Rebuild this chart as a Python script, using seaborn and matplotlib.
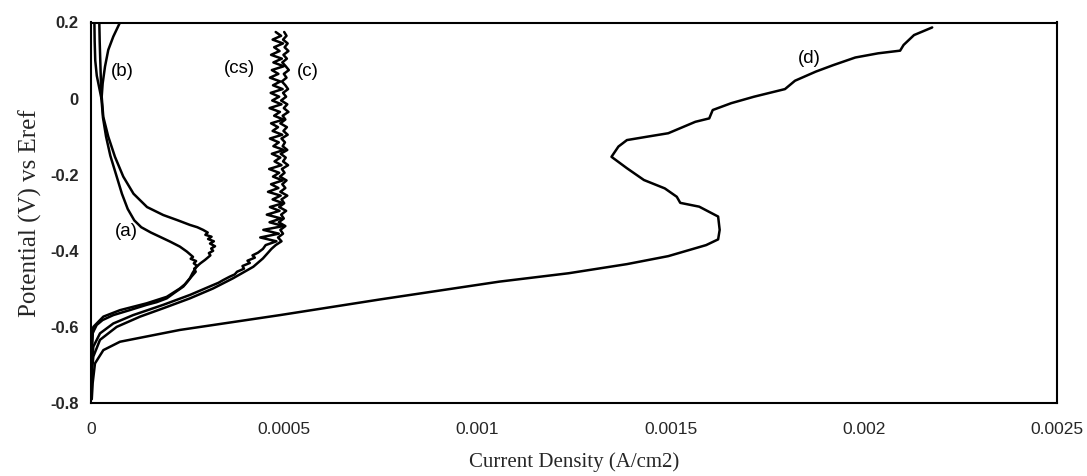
import matplotlib
matplotlib.use("Agg")
import matplotlib.pyplot as plt
import seaborn as sns
import pandas as pd

# Polarisation curves: current density (A/cm2) against potential (V vs Eref)

# (d)
d_current = [0.002177, 0.002130, 0.002103, 0.002094, 0.002037, 0.001978, 0.001921,
             0.001876, 0.001822, 0.001796, 0.001716, 0.001657, 0.001609, 0.001600,
             0.001564, 0.001494, 0.001440, 0.001387, 0.001365, 0.001347, 0.001387,
             0.001431, 0.001485, 0.001516, 0.001525, 0.001574, 0.001623, 0.001627,
             0.001623, 0.001592, 0.001494, 0.001387, 0.001236, 0.001057, 0.000747,
             0.000489, 0.000230, 0.000075, 0.000032, 0.0000103, 0.0000044, 0.000002]
d_potential = [0.187, 0.167, 0.141, 0.126, 0.119, 0.108, 0.088,
               0.071, 0.047, 0.025, 0.005, -0.012, -0.030, -0.052,
               -0.061, -0.091, -0.100, -0.109, -0.126, -0.153, -0.183,
               -0.214, -0.236, -0.258, -0.274, -0.284, -0.310, -0.345,
               -0.370, -0.385, -0.414, -0.435, -0.459, -0.481, -0.528,
               -0.569, -0.608, -0.639, -0.661, -0.696, -0.747, -0.790]

# (b)
b_current = [0.000075, 0.0000577, 0.0000447, 0.0000362, 0.0000302, 0.0000277, 0.0000318,
             0.0000447, 0.000062, 0.0000835, 0.000110, 0.000145, 0.000187, 0.000225,
             0.000256, 0.000275, 0.000290, 0.000302, 0.000296, 0.000312, 0.000303,
             0.000318, 0.000308, 0.000321, 0.000311, 0.000316, 0.000305, 0.000309,
             0.000295, 0.000283, 0.000273, 0.000263, 0.000256, 0.000243, 0.000230,
             0.000196, 0.000144, 0.000075, 0.000032, 0.000006, 0.000002, 0.000001]
b_potential = [0.200, 0.163, 0.128, 0.084, 0.040, 0.005, -0.048,
               -0.100, -0.153, -0.205, -0.250, -0.285, -0.306, -0.320,
               -0.332, -0.338, -0.345, -0.352, -0.358, -0.363, -0.369,
               -0.375, -0.381, -0.388, -0.394, -0.400, -0.406, -0.412,
               -0.424, -0.433, -0.442, -0.458, -0.472, -0.488, -0.499,
               -0.521, -0.538, -0.556, -0.573, -0.600, -0.650, -0.750]

# (a)
a_current = [0.0000215, 0.0000225, 0.000024, 0.0000255, 0.000027, 0.000031, 0.000039,
             0.000050, 0.000065, 0.000080, 0.000095, 0.000112, 0.000130, 0.000155,
             0.000178, 0.000205, 0.000230, 0.000248, 0.000264, 0.000258, 0.000272,
             0.000266, 0.000275, 0.000267, 0.000271, 0.000260, 0.000249, 0.000239,
             0.000215, 0.000196, 0.000170, 0.000144, 0.000100, 0.0000577, 0.000030,
             0.0000147, 0.000004, 0.000002, 0.000001]
a_potential = [0.200, 0.150, 0.100, 0.050, 0.000, -0.050, -0.100,
               -0.150, -0.200, -0.250, -0.290, -0.320, -0.338, -0.352,
               -0.363, -0.376, -0.389, -0.402, -0.416, -0.421, -0.427,
               -0.433, -0.440, -0.447, -0.455, -0.468, -0.482, -0.494,
               -0.511, -0.525, -0.535, -0.542, -0.556, -0.569, -0.582,
               -0.595, -0.617, -0.680, -0.760]

# (a) return sweep near the top
a_return_current = [0.0000088, 0.0000095, 0.000011, 0.000015, 0.000021, 0.000027]
a_return_potential = [0.200, 0.150, 0.100, 0.060, 0.030, 0.000]

# (cs)
cs_current = [0.000478, 0.000492, 0.000470, 0.000497, 0.000474, 0.000488, 0.000466,
              0.000494, 0.000472, 0.000499, 0.000468, 0.000485, 0.000463, 0.000490,
              0.000471, 0.000496, 0.000465, 0.000487, 0.000469, 0.000493, 0.000462,
              0.000489, 0.000474, 0.000498, 0.000466, 0.000484, 0.000470, 0.000495,
              0.000463, 0.000486, 0.000472, 0.000499, 0.000468, 0.000490, 0.000475,
              0.000493, 0.000461, 0.000487, 0.000471, 0.000496, 0.000466, 0.000485,
              0.000458, 0.000491, 0.000470, 0.000497, 0.000463, 0.000488, 0.000455,
              0.000492, 0.000462, 0.000498, 0.000446, 0.000486, 0.000438, 0.000480,
              0.000452, 0.000445, 0.000432, 0.000418, 0.000424, 0.000405, 0.000411,
              0.000392, 0.000396, 0.000378, 0.000372, 0.000359, 0.000342, 0.000330,
              0.000316, 0.000256, 0.000187, 0.000109, 0.0000577, 0.0000233, 0.000006,
              0.000002, 0.000001]
cs_potential = [0.175, 0.165, 0.155, 0.145, 0.135, 0.125, 0.115,
                0.105, 0.095, 0.085, 0.075, 0.065, 0.055, 0.045,
                0.035, 0.025, 0.015, 0.005, -0.005, -0.015, -0.025,
                -0.035, -0.045, -0.055, -0.065, -0.075, -0.085, -0.095,
                -0.105, -0.115, -0.125, -0.135, -0.145, -0.155, -0.165,
                -0.175, -0.185, -0.195, -0.205, -0.215, -0.225, -0.235,
                -0.245, -0.255, -0.265, -0.275, -0.285, -0.295, -0.305,
                -0.315, -0.325, -0.335, -0.345, -0.355, -0.365, -0.375,
                -0.385, -0.395, -0.405, -0.412, -0.418, -0.426, -0.432,
                -0.440, -0.447, -0.455, -0.462, -0.468, -0.477, -0.484,
                -0.490, -0.516, -0.542, -0.569, -0.591, -0.617, -0.652,
                -0.700, -0.770]

# (c)
c_current = [0.000500, 0.000506, 0.000497, 0.000509, 0.000501, 0.000511, 0.000498,
             0.000507, 0.000495, 0.000504, 0.000512, 0.000499, 0.000506, 0.000494,
             0.000503, 0.000510, 0.000497, 0.000505, 0.000492, 0.000508, 0.000499,
             0.000511, 0.000496, 0.000503, 0.000490, 0.000507, 0.000498, 0.000509,
             0.000493, 0.000502, 0.000496, 0.000508, 0.000491, 0.000504, 0.000497,
             0.000510, 0.000494, 0.000501, 0.000489, 0.000506, 0.000495, 0.000503,
             0.000490, 0.000508, 0.000493, 0.000500, 0.000487, 0.000505, 0.000492,
             0.000499, 0.000486, 0.000503, 0.000490, 0.000497, 0.000484, 0.000493,
             0.000478, 0.000467, 0.000445, 0.000420, 0.000368, 0.000316, 0.000256,
             0.000187, 0.000127, 0.0000664, 0.0000233, 0.000006, 0.000002, 0.0000005]
c_potential = [0.175, 0.165, 0.155, 0.145, 0.135, 0.125, 0.115,
               0.105, 0.095, 0.085, 0.075, 0.065, 0.055, 0.045,
               0.035, 0.025, 0.015, 0.005, -0.005, -0.015, -0.025,
               -0.035, -0.045, -0.055, -0.065, -0.075, -0.085, -0.095,
               -0.105, -0.115, -0.125, -0.135, -0.145, -0.155, -0.165,
               -0.175, -0.185, -0.195, -0.205, -0.215, -0.225, -0.235,
               -0.245, -0.255, -0.265, -0.275, -0.285, -0.295, -0.305,
               -0.315, -0.325, -0.335, -0.345, -0.355, -0.365, -0.375,
               -0.385, -0.395, -0.420, -0.442, -0.472, -0.499, -0.525,
               -0.551, -0.573, -0.600, -0.634, -0.678, -0.722, -0.790]

# Curve labels and where they sit (current, potential)
label_texts = ["(a)", "(b)", "(cs)", "(c)", "(d)"]
label_current = [0.0000923, 0.0000800, 0.000385, 0.000560, 0.001859]
label_potential = [-0.350, 0.071, 0.080, 0.071, 0.106]

x_ticks = [0, 0.0005, 0.001, 0.0015, 0.002, 0.0025]
x_tick_labels = ["0", "0.0005", "0.001", "0.0015", "0.002", "0.0025"]
y_ticks = [-0.8, -0.6, -0.4, -0.2, 0, 0.2]
y_tick_labels = ["-0.8", "-0.6", "-0.4", "-0.2", "0", "0.2"]

series = {
    "a": (a_current, a_potential),
    "a_return": (a_return_current, a_return_potential),
    "b": (b_current, b_potential),
    "c": (c_current, c_potential),
    "cs": (cs_current, cs_potential),
    "d": (d_current, d_potential),
}
frames = []
for name, (cur, pot) in series.items():
    frames.append(pd.DataFrame({"current": cur, "potential": pot, "curve": name}))
df = pd.concat(frames, ignore_index=True)

sns.set_theme(style="white")
plt.rcParams["font.family"] = ["Liberation Sans", "DejaVu Sans"]

fig = plt.figure(figsize=(10.87, 4.76), dpi=100)
ax = fig.add_axes([91 / 1087, 1 - 403 / 476, (1057 - 91) / 1087, (403 - 22.5) / 476])

sns.lineplot(data=df, x="current", y="potential", units="curve", estimator=None,
             sort=False, color="black", linewidth=1.8, ax=ax, legend=False)

ax.set_xlim(0, 0.0025)
ax.set_ylim(-0.8, 0.2)
ax.set_xticks(x_ticks)
ax.set_xticklabels(x_tick_labels, fontsize=12.5)
ax.set_yticks(y_ticks)
ax.set_yticklabels(y_tick_labels, fontsize=12, fontweight="bold")
ax.tick_params(axis="x", direction="inout", length=12, width=1.2, color="black", pad=8)
ax.tick_params(axis="y", direction="inout", length=10, width=1.2, color="black", pad=4)

for side in ["left", "right", "top", "bottom"]:
    ax.spines[side].set_visible(True)
    ax.spines[side].set_color("black")
    ax.spines[side].set_linewidth(1.5)

ax.set_xlabel("Current Density (A/cm2)", family=["Liberation Serif"], fontsize=15,
              labelpad=11)
ax.set_ylabel("Potential (V) vs Eref", family=["Liberation Serif"], fontsize=18,
              labelpad=6)

for text, cx, cy in zip(label_texts, label_current, label_potential):
    ax.text(cx, cy, text, fontsize=13.5, ha="center", va="center", color="black")

fig.savefig("out.png", dpi=100, facecolor="white")
